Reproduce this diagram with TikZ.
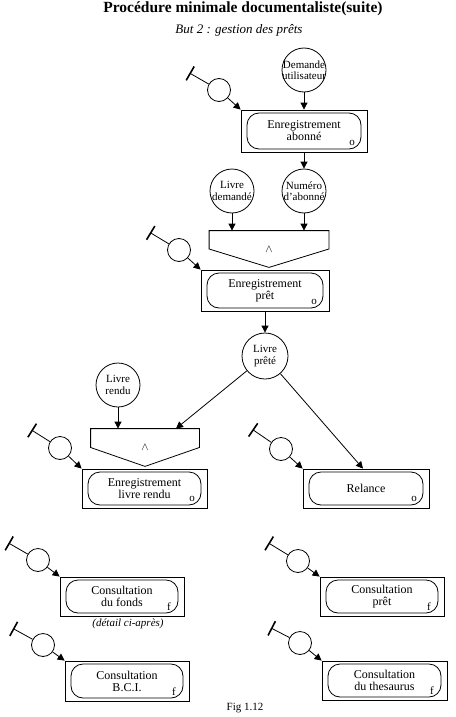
\documentclass[tikz,border=0pt]{standalone}
\usepackage{fontspec}
\setmainfont{Liberation Serif}
\usetikzlibrary{arrows.meta,positioning}
\tikzset{
    %Define standard arrow tip
    >={Triangle[length=7pt,width=7pt]},
    %Define style for circles
    flux/.style={
           circle,
           draw=black, thick,
           minimum size=44pt,
           inner sep=-4pt,
           font=\fontsize{11}{11.5}\selectfont,
           align=center},
    evt/.style={
           circle,
           draw=black, thick,
           minimum size=23pt},
    %Define style for boxes
    proc/.style={
           rectangle,
           draw=black, thick,
           minimum width=126pt,
           minimum height=40pt,
           font=\fontsize{12}{12}\selectfont,
           align=center,
           path picture={
              \draw[rounded corners=12pt]
                 ([shift={(6pt,3pt)}]path picture bounding box.south west) rectangle
                 ([shift={(-6pt,-3pt)}]path picture bounding box.north east);
              \node[font=\fontsize{11}{11}\selectfont] at ([shift={(-15pt,9pt)}]path picture bounding box.south east) {#1};
           }},
    proc/.default={},
    etbox/.style={
           rectangle,
           inner sep=0pt,
           font=\fontsize{11}{11}\selectfont},
    % Define arrow styles
    pil/.style={
           ->,
           thick},
    dec/.style={
           {Bar[width=16pt,line width=1.6pt]}-,
           thick}
}
\begin{document}
\begin{tikzpicture}[x=1pt,y=-1pt,thick]
\useasboundingbox (0,0) rectangle (455,717);
 %titles
\node[font=\fontsize{15.5}{15.5}\selectfont\bfseries] (titre) at (243,9) {Procédure minimale documentaliste(suite)};
\node[font=\fontsize{13}{13}\selectfont\itshape] (soustitre) at (239,30) {But 2 : gestion des prêts};

 %nodes
\node[flux] (dem) at (304,70) {Demande\\utilisateur};
\node[proc=o, minimum height=42pt] (regab) at (304,131) {Enregistrement\\abonné};
\node[flux] (livdem) at (232,191) {Livre\\demandé};
\node[flux] (numab) at (304,191) {Numéro\\d'abonné};
\node[etbox, minimum width=119pt, minimum height=36pt] (et1) at (269,249) {$\wedge$};
\node[proc=o, minimum width=128pt, minimum height=41pt] (regpret) at (265,290.5) {Enregistrement\\prêt};
\node[flux, minimum size=46pt] (livpre) at (265,356) {Livre\\prêté};
\node[flux] (livren) at (118,385) {Livre\\rendu};
\node[etbox, minimum width=108pt, minimum height=37pt] (et2) at (145,447.5) {$\wedge$};
\node[proc=o, minimum width=125pt, minimum height=39pt] (regrendu) at (144.5,488.5) {Enregistrement\\livre rendu};
\node[proc=o, minimum height=39pt] (relance) at (366,488.5) {Relance};
\node[proc=f, minimum width=124pt, minimum height=39pt] (consfonds) at (122,596.5) {Consultation\\du fonds};
\node[font=\fontsize{11}{11}\selectfont\itshape] (detail) at (128,624) {(détail ci-après)};
\node[proc=f, minimum width=124pt, minimum height=39pt] (conspret) at (382,596.5) {Consultation\\prêt};
\node[proc=f, minimum width=124pt, minimum height=40pt] (consbci) at (127,681) {Consultation\\B.C.I.};
\node[proc=f, minimum width=125pt, minimum height=39pt] (consthes) at (384.5,680.5) {Consultation\\du thesaurus};
\node[font=\fontsize{11}{11}\selectfont] (fig) at (245,708) {Fig 1.12};

 %and gates
\draw (et1.north west) -- (et1.north east) -- (et1.east) -- (et1.south) -- (et1.west) -- cycle;
\draw (et2.north west) -- (et2.north east) -- (et2.east) -- (et2.south) -- (et2.west) -- cycle;

 %events
\coordinate (t1) at (189.5,73);  \node[evt] (g1) at (219,90) {};
\coordinate (t2) at (150,232.5); \node[evt] (g2) at (179,250) {};
\coordinate (t3) at (31.5,430);  \node[evt] (g3) at (60,448) {};
\coordinate (t4) at (252.5,429.5); \node[evt] (g4) at (281,449) {};
\coordinate (t5) at (8.5,543);   \node[evt] (g5) at (38,560) {};
\coordinate (t6) at (268.5,543); \node[evt] (g6) at (298,561) {};
\coordinate (t7) at (13,628.5);  \node[evt] (g7) at (43,645) {};
\coordinate (t8) at (271,628);   \node[evt] (g8) at (300,643) {};
\coordinate (in2) at ([xshift=31pt]et2.north);

 \path
    (dem) edge[pil] (regab)
    (regab) edge[pil] (numab)
    (livdem) edge[pil] (livdem |- et1.north)
    (numab) edge[pil] (numab |- et1.north)
    (regpret) edge[pil] (livpre)
    (livren) edge[pil] (livren |- et2.north)
    (livpre) edge[pil] (in2)
    (livpre) edge[pil] ([xshift=-3pt]relance.north)
    (t1) edge[dec] (g1) (g1) edge[pil] (regab.north west)
    (t2) edge[dec] (g2) (g2) edge[pil] (regpret.north west)
    (t3) edge[dec] (g3) (g3) edge[pil] (regrendu.north west)
    (t4) edge[dec] (g4) (g4) edge[pil] (relance.north west)
    (t5) edge[dec] (g5) (g5) edge[pil] (consfonds.north west)
    (t6) edge[dec] (g6) (g6) edge[pil] (conspret.north west)
    (t7) edge[dec] (g7) (g7) edge[pil] (consbci.north west)
    (t8) edge[dec] (g8) (g8) edge[pil] (consthes.north west);
\end{tikzpicture}
\end{document}
